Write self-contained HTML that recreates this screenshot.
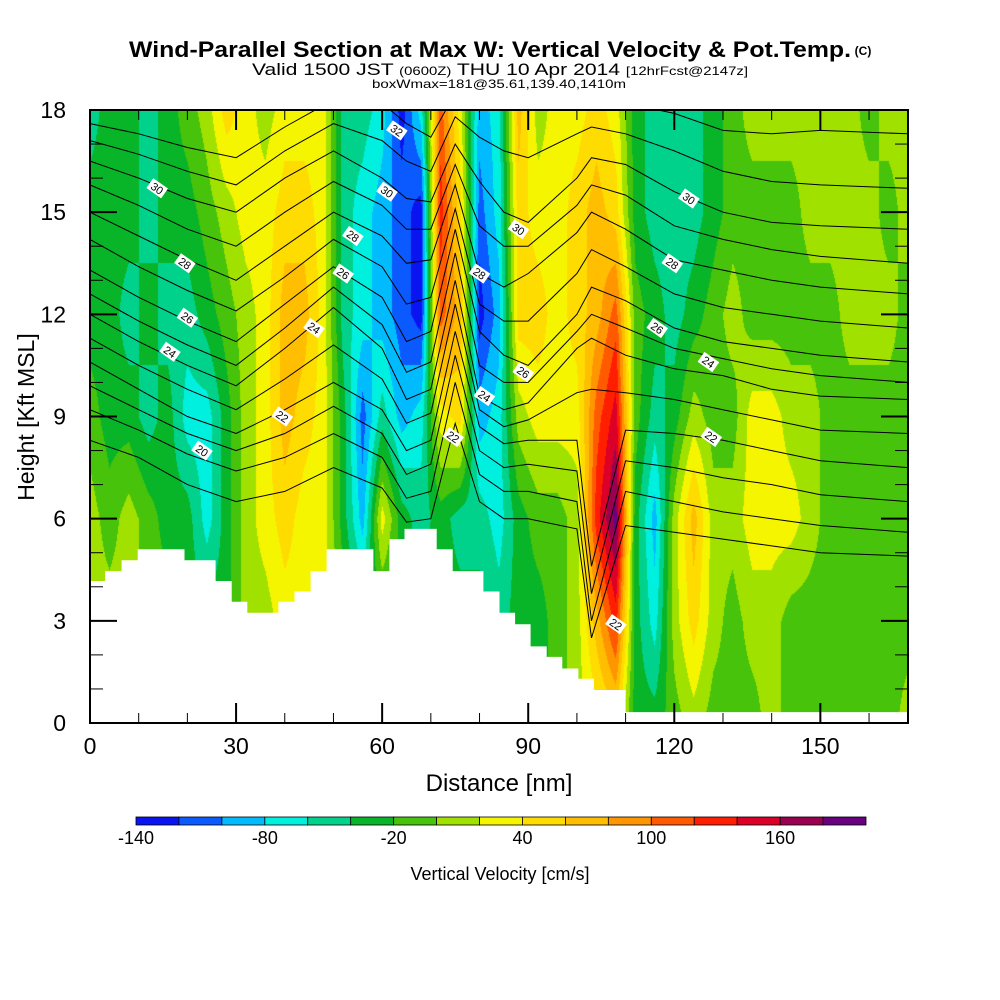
<!DOCTYPE html>
<html><head><meta charset="utf-8">
<style>
html,body{margin:0;padding:0;background:#fff;}
#wrap{position:relative;width:1000px;height:1000px;overflow:hidden;background:#fff;font-family:"Liberation Sans",sans-serif;}
canvas{position:absolute;left:90px;top:110px;}
svg{position:absolute;left:0;top:0;}
</style></head>
<body>
<div id="wrap">
<canvas id="cv" width="818" height="613"></canvas>
<svg id="sv" width="1000" height="1000">
<text x="490" y="57" font-size="22" font-weight="bold" text-anchor="middle" textLength="722" lengthAdjust="spacingAndGlyphs">Wind-Parallel Section at Max W: Vertical Velocity &amp; Pot.Temp.</text>
<text x="863" y="55" font-size="12" font-weight="bold" text-anchor="middle">(C)</text>
<text x="500" y="75" font-size="17" text-anchor="middle" textLength="496" lengthAdjust="spacingAndGlyphs">Valid 1500 JST <tspan font-size="12">(0600Z)</tspan> THU 10 Apr 2014 <tspan font-size="12">[12hrFcst@2147z]</tspan></text>
<text x="499" y="88" font-size="12" text-anchor="middle" textLength="254" lengthAdjust="spacingAndGlyphs">boxWmax=181@35.61,139.40,1410m</text>
<g id="lines"></g>
<g id="terrain"></g>
<g id="labels"></g>
<g id="axes"></g>
<text x="499" y="791" font-size="24" text-anchor="middle">Distance [nm]</text>
<text transform="translate(34,417) rotate(-90)" font-size="23" text-anchor="middle">Height [Kft MSL]</text>
<g id="cbar"></g>
<text x="500" y="880" font-size="18" text-anchor="middle">Vertical Velocity [cm/s]</text>
</svg>
</div>
<script>
// ---- data ----
const colNm = [0,4,8,12,16,20,24,28,32,36,40,44,48,52,56,60,64,68,72,76,80,84,88,92,96,100,104,108,112,116,120,124,128,132,136,140,144,148,152,156,160,164,168];
const rowH = [0,3,6,9,12,15,18];
const w0  = [10,10,10,-10,-10,-30,-30,-30,10,10,30,30,30,-10,-30,-30,-30,-30,-30,-30,-30,-30,-30,-30,-10,10,30,50,-30,-30,-10,10,-10,-10,-10,10,-10,-10,-10,-10,-10,-10,10];
const w3  = [10,10,10,-10,-10,-30,-30,-30,10,10,30,30,30,-10,-30,-30,-30,-30,-30,-30,-30,-50,-30,-30,-10,10,70,130,-30,-70,10,50,10,-10,10,10,-10,-10,-10,-10,-10,-10,-10];
const w6  = [10,-10,10,-10,-30,-30,-70,-30,10,30,50,30,30,-30,-90,30,-30,-50,-30,-50,-50,-70,-30,-10,-10,10,130,190,-30,-90,10,70,10,10,30,30,30,10,-10,-10,-10,-10,-10];
const w9  = [-10,-30,-30,-50,-30,-70,-70,-30,10,30,70,50,30,-30,-110,-50,-90,-70,30,50,-90,-70,10,30,30,30,110,150,-10,-50,-30,10,-10,-10,30,30,10,10,-10,-10,-10,-10,-10];
const w12 = [-30,-30,-50,-30,-50,-50,-30,-10,10,30,70,70,30,-50,-70,-90,-110,-130,110,70,-130,-90,50,50,30,50,70,110,-10,-30,-50,-30,-10,10,-10,-10,-10,-10,-10,10,10,10,-10];
const w15 = [-30,-30,-30,-50,-30,-30,-10,10,30,30,50,50,30,-50,-70,-90,-110,-130,130,50,-110,-70,50,30,30,50,70,50,-30,-50,-50,-50,-30,-10,-10,-10,-10,10,10,10,10,-10,10];
const w18 = [-50,-30,-30,-50,-30,-10,10,50,30,10,30,30,30,-50,-50,-70,-130,-70,110,30,-90,-70,70,10,30,30,50,30,-30,-50,-50,-50,-30,-10,10,10,10,10,10,10,-10,10,10];
const wRows = [w0,w3,w6,w9,w12,w15,w18];

const terrStart = [0,3.1,6.5,9.8,19.4,25.8,29.1,32.3,38.7,42,45.3,48.6,58.2,61.5,64.6,71.2,74.5,80.8,84.1,87.3,90.5,93.8,97,100.3,103.5,110];
const terrH     = [4.17,4.46,4.78,5.1,4.78,4.17,3.56,3.24,3.56,3.86,4.46,5.1,4.46,5.4,5.7,5.1,4.46,3.86,3.24,2.9,2.25,1.94,1.6,1.3,0.97,0.32];

const thNm = [0,10,20,30,40,50,60,65,70,75,80,85,90,100,103,110,120,130,140,150,168];
const th19 = [8.3,7.8,7.0,6.5,6.8,7.5,6.9,5.9,6.0,8.8,6.5,6.0,6.0,5.7,2.5,5.8,5.6,5.4,5.2,5.0,4.9];
const th20 = [9.2,8.6,7.9,7.4,7.8,8.5,7.8,6.6,6.8,10.0,7.3,6.8,6.8,6.5,3.0,6.8,6.5,6.2,6.0,5.8,5.6];
const th21 = [9.9,9.2,8.5,8.0,8.5,9.3,8.5,7.3,7.6,10.8,8.0,7.5,7.6,7.4,3.8,7.7,7.5,7.2,7.0,6.7,6.5];
const th22 = [10.6,9.8,9.0,8.5,9.2,10.0,9.2,8.0,8.3,11.5,8.7,8.2,8.3,8.3,4.6,8.6,8.5,8.3,8.0,7.7,7.5];
const th23 = [11.3,10.5,9.8,9.2,10.1,11.1,10.1,8.8,9.1,12.3,9.2,8.7,8.9,9.7,9.8,9.7,9.5,9.2,8.9,8.6,8.5];
const th24 = [12.0,11.2,10.5,9.9,11.0,12.2,11.0,9.5,9.8,13.0,9.6,9.2,9.4,11.0,11.3,10.8,10.4,10.2,9.8,9.6,9.5];
const th25 = [12.6,11.8,11.1,10.5,11.6,12.8,11.7,10.3,10.6,13.8,10.5,10.0,10.0,11.5,12.0,11.6,11.0,10.7,10.4,10.2,10.0];
const th26 = [13.3,12.5,11.8,11.2,12.3,13.4,12.5,11.2,11.5,14.5,11.5,10.8,10.5,12.0,12.8,12.4,11.6,11.2,11.0,10.8,10.6];
const th27 = [14.2,13.4,12.7,12.1,13.1,14.2,13.4,12.3,12.5,15.1,12.3,11.8,11.8,13.2,13.9,13.4,12.6,12.2,12.0,11.8,11.6];
const th28 = [15.0,14.3,13.6,13.0,14.0,15.0,14.3,13.5,13.6,15.8,13.2,12.8,13.2,14.4,15.0,14.5,13.6,13.3,13.0,12.8,12.6];
const th29 = [15.8,15.2,14.5,14.0,15.0,15.9,15.2,14.5,14.5,16.4,14.6,14.0,14.0,15.2,15.8,15.5,14.6,14.2,13.9,13.7,13.5];
const th30 = [16.5,16.0,15.4,15.0,16.0,16.8,16.0,15.4,15.3,17.0,15.9,15.0,14.7,16.0,16.6,16.4,15.6,15.0,14.7,14.6,14.5];
const th31 = [17.1,16.7,16.2,15.8,16.8,17.6,17.1,16.5,16.2,17.8,17.2,16.8,16.6,17.3,17.5,17.3,16.8,16.2,15.9,15.8,15.7];
const th32 = [17.6,17.3,16.9,16.6,17.5,18.3,18.2,17.6,17.2,18.5,18.5,18.5,18.6,18.5,18.4,18.2,17.9,17.4,17.3,17.4,17.3];
const thLines = [th19,th20,th21,th22,th23,th24,th25,th26,th27,th28,th29,th30,th31,th32];

const lblText = ["30","28","26","24","20","22","24","26","28","30","32","28","24","22","30","26","22","30","28","26","24","22"];
const lblNm   = [13.8,19.5,20,16.4,23,39.5,46,52,54,61,63,80,81,74.6,88,89,108,123,119.6,116.5,127,127.6];
const lblH    = [15.7,13.5,11.9,10.9,8.0,9.0,11.6,13.2,14.3,15.6,17.4,13.2,9.6,8.4,14.5,10.3,2.9,15.4,13.5,11.6,10.6,8.4];

const cbColors = ["#0a14f0","#0a5aff","#00bcff","#00f0e0","#00d28c","#08b428","#46c30a","#a0e100","#f5f500","#ffdc00","#ffbe00","#ff9600","#ff5a00","#ff1e00","#dc0028","#9b0050","#690082"];
const cbTicks = [-140,-80,-20,40,100,160];
const xTicks = [0,30,60,90,120,150];
const yTicks = [0,3,6,9,12,15,18];

// ---- scales ----
const L=90,T=110,W=818,H=613,XMAX=168,YMAX=18;
const xs = nm => L + nm*W/XMAX;
const ys = h => T + H*(1-h/YMAX);
const NS='http://www.w3.org/2000/svg';
function mk(tag, attrs, parent){const e=document.createElementNS(NS,tag);for(const k in attrs)e.setAttribute(k,attrs[k]);parent.appendChild(e);return e;}
function binOf(v){let i=Math.floor((v+140)/20);return Math.max(0,Math.min(16,i));}
function hex(c){return [parseInt(c.slice(1,3),16),parseInt(c.slice(3,5),16),parseInt(c.slice(5,7),16)];}
const rgb = cbColors.map(hex);

// ---- field ----
(function(){
 const cv=document.getElementById('cv'),ctx=cv.getContext('2d');
 const img=ctx.createImageData(W,H);
 for(let py=0;py<H;py++){
  const h=YMAX*(1-(py+0.5)/H);
  let r=Math.min(rowH.length-2,Math.floor(h/3)); const fy=(h-rowH[r])/(rowH[r+1]-rowH[r]);
  for(let px=0;px<W;px++){
   const nm=(px+0.5)*XMAX/W;
   let c=Math.min(colNm.length-2,Math.floor(nm/4)); const fx=(nm-colNm[c])/(colNm[c+1]-colNm[c]);
   const a=wRows[r][c],b=wRows[r][c+1],d=wRows[r+1][c],e=wRows[r+1][c+1];
   const v=(a*(1-fx)+b*fx)*(1-fy)+(d*(1-fx)+e*fx)*fy;
   const col=rgb[binOf(v)];const o=(py*W+px)*4;
   img.data[o]=col[0];img.data[o+1]=col[1];img.data[o+2]=col[2];img.data[o+3]=255;
  }
 }
 ctx.putImageData(img,0,0);
})();

const defs=mk('defs',{},document.getElementById('sv'));
const cp=mk('clipPath',{id:'plotclip'},defs);mk('rect',{x:L,y:T,width:W,height:H},cp);

// ---- isentropes ----
const gl=document.getElementById('lines');
thLines.forEach((arr,i)=>{
 const d=arr.map((h,j)=>(j?'L':'M')+xs(thNm[j]).toFixed(1)+','+ys(Math.min(h,18.6)).toFixed(1)).join(' ');
 const p=mk('path',{d:d,fill:'none',stroke:'#000','stroke-width':1,'clip-path':'url(#plotclip)'},gl);
 
 
});

// ---- terrain ----
const gt=document.getElementById('terrain');
let td='M'+xs(0)+','+ys(0);
terrStart.forEach((s,i)=>{const e=i<terrStart.length-1?terrStart[i+1]:XMAX;td+=' L'+xs(s).toFixed(1)+','+ys(terrH[i]).toFixed(1)+' L'+xs(e).toFixed(1)+','+ys(terrH[i]).toFixed(1);});
td+=' L'+xs(XMAX)+','+ys(0)+' Z';
const tp=mk('path',{d:td,fill:'#fff',stroke:'none'},gt);



// ---- contour labels ----
const glb=document.getElementById('labels');
lblText.forEach((t,i)=>{
 const g=mk('g',{transform:`translate(${xs(lblNm[i]).toFixed(1)},${ys(lblH[i]).toFixed(1)}) rotate(35)`},glb);
 
 
 mk('rect',{x:-9,y:-6,width:18,height:12,fill:'#fff'},g);
 const tx=mk('text',{x:0,y:4,'font-size':11,'text-anchor':'middle'},g);tx.textContent=t;
});

// ---- axes ----
const ga=document.getElementById('axes');
const fr=mk('rect',{x:L,y:T,width:W,height:H,fill:'none',stroke:'#000','stroke-width':2},ga);


for(let h=0;h<=18;h++){const maj=h%3===0,len=maj?27:13,y=ys(h);
 mk('line',{x1:L,y1:y,x2:L+len,y2:y,stroke:'#000','stroke-width':maj?2:1},ga);
 mk('line',{x1:L+W,y1:y,x2:L+W-len,y2:y,stroke:'#000','stroke-width':maj?2:1},ga);}
for(let n=0;n<=168;n+=10){const maj=n%30===0,len=maj?20:10,x=xs(n);
 mk('line',{x1:x,y1:T+H,x2:x,y2:T+H-len,stroke:'#000','stroke-width':maj?2:1},ga);
 mk('line',{x1:x,y1:T,x2:x,y2:T+len,stroke:'#000','stroke-width':maj?2:1},ga);}
yTicks.forEach(v=>{const t=mk('text',{x:66,y:ys(v)+8,'font-size':23,'text-anchor':'end'},ga);t.textContent=v;
 
 });
xTicks.forEach(v=>{const t=mk('text',{x:xs(v),y:754,'font-size':23,'text-anchor':'middle'},ga);t.textContent=v;
 
 });

// ---- colorbar ----
const gc=document.getElementById('cbar');
const CB0=136,CBW=(866-136)/cbColors.length;
cbColors.forEach((c,i)=>{const r=mk('rect',{x:CB0+i*CBW,y:817,width:CBW,height:8,fill:c,stroke:'#000','stroke-width':0.8},gc);
 
 });
cbTicks.forEach(v=>{const t=mk('text',{x:CB0+(v+140)/20*CBW,y:844,'font-size':18,'text-anchor':'middle'},gc);t.textContent=v;
 
 });
</script>
</body></html>
